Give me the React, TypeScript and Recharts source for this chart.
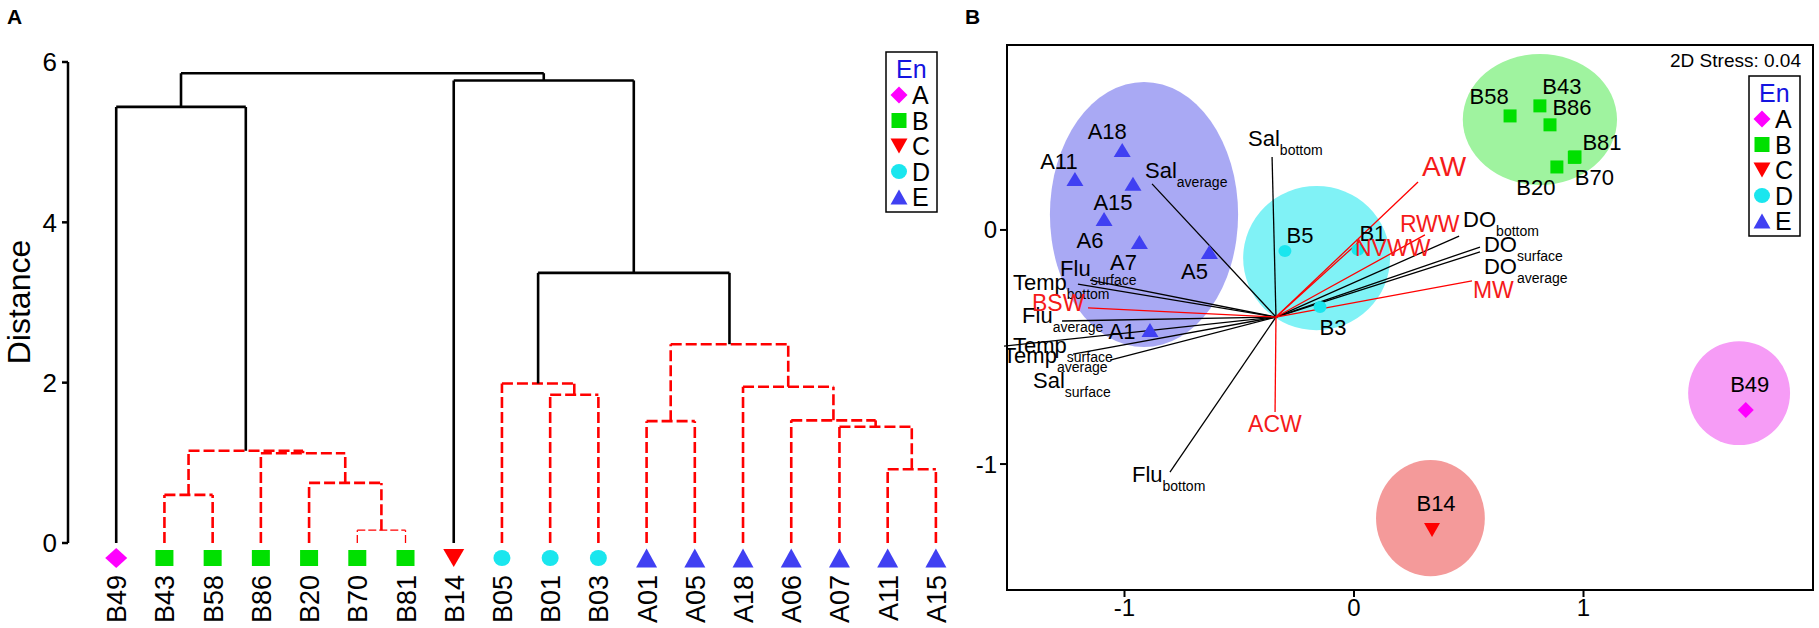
import React from "react";
import { ScatterChart, Scatter, XAxis, YAxis, ReferenceLine, ReferenceArea } from "recharts";

if (typeof document !== "undefined") document.body.style.margin = "0";

const FONT = '"Liberation Sans", Arial, Helvetica, sans-serif';

// ---------- Panel A: dendrogram ----------
const leafNames = ["B49", "B43", "B58", "B86", "B20", "B70", "B81", "B14", "B05", "B01", "B03", "A01", "A05", "A18", "A06", "A07", "A11", "A15"];
const leafGroups = ["A", "B", "B", "B", "B", "B", "B", "C", "D", "D", "D", "E", "E", "E", "E", "E", "E", "E"];
// [left id, right id, distance]; ids 0-17 are leaves, 18+ are the merges below in order
const merges: [number, number, number][] = [
  [5, 6, 0.16],
  [4, 18, 0.75],
  [1, 2, 0.6],
  [3, 19, 1.12],
  [20, 21, 1.15],
  [0, 22, 5.44],
  [9, 10, 1.85],
  [8, 24, 1.99],
  [16, 17, 0.92],
  [15, 26, 1.45],
  [14, 27, 1.53],
  [13, 28, 1.95],
  [11, 12, 1.52],
  [30, 29, 2.48],
  [25, 31, 3.37],
  [7, 32, 5.77],
  [23, 33, 5.86],
];
const distanceTicks = [0, 2, 4, 6];
const CUT = 3; // links above this are drawn solid black

// ---------- Panel B: nMDS ----------
const siteNames = ["A18", "A11", "A15", "A6", "A7", "A5", "A1", "B5", "B1", "B3", "B58", "B43", "B86", "B81", "B70", "B20", "B49", "B14"];
const siteGroups = ["E", "E", "E", "E", "E", "E", "E", "D", "D", "D", "B", "B", "B", "B", "B", "B", "A", "C"];
const siteX = [-1.01, -1.216, -0.963, -1.089, -0.935, -0.63, -0.889, -0.301, 0.017, -0.148, 0.68, 0.81, 0.854, 0.963, 0.96, 0.884, 1.707, 0.34];
const siteY = [0.342, 0.218, 0.197, 0.047, -0.051, -0.094, -0.427, -0.09, -0.085, -0.329, 0.487, 0.53, 0.449, 0.312, 0.31, 0.269, -0.769, -1.282];

const ellipseGroups = ["E", "D", "B", "A", "C"];
const ellipseCx = [-0.915, -0.163, 0.81, 1.678, 0.333];
const ellipseCy = [0.066, -0.12, 0.472, -0.697, -1.231];
const ellipseRx = [0.41, 0.32, 0.336, 0.222, 0.237];
const ellipseRy = [0.566, 0.308, 0.28, 0.222, 0.248];

const vectorOrigin = { x: -0.34, y: -0.372 };
const envNames = ["Sal", "Sal", "Flu", "Temp", "Flu", "Temp", "Temp", "Sal", "Flu", "DO", "DO", "DO"];
const envLayers = ["bottom", "average", "surface", "bottom", "average", "surface", "average", "surface", "bottom", "bottom", "surface", "average"];
const envX = [-0.357, -0.88, -1.15, -1.203, -1.272, -1.525, -1.224, -1.063, -0.802, 0.458, 0.549, 0.549];
const envY = [0.312, 0.197, -0.214, -0.231, -0.389, -0.496, -0.53, -0.556, -1.034, -0.026, -0.073, -0.094];

const wmNames = ["AW", "RWW", "NVWW", "MW", "BSW", "ACW"];
const wmX = [0.279, 0.309, 0.026, 0.514, -1.159, -0.344];
const wmY = [0.205, -0.021, -0.047, -0.218, -0.333, -0.778];

const mdsXTicks = [-1, 0, 1];
const mdsYTicks = [-1, 0];
const mdsXDomain: [number, number] = [-1.512, 2.0];
const mdsYDomain: [number, number] = [-1.538, 0.79];
const stressText = "2D Stress: 0.04";

// ---------- layout / style ----------
type Kind = "diamond" | "square" | "triDown" | "circle" | "triUp";
const groupStyle: Record<string, { kind: Kind; color: string; fill: string }> = {
  A: { kind: "diamond", color: "#FF00FF", fill: "#F69CF6" },
  B: { kind: "square", color: "#00E000", fill: "#9FF39F" },
  C: { kind: "triDown", color: "#FF0000", fill: "#F49A9A" },
  D: { kind: "circle", color: "#1AE6EE", fill: "#80F2F6" },
  E: { kind: "triUp", color: "#4040F2", fill: "#A9A9F4" },
};
const sizeA: Record<Kind, [number, number]> = { diamond: [22, 20], square: [18, 16], triDown: [21, 18], circle: [17, 16], triUp: [21, 19] };
const sizeB: Record<Kind, [number, number]> = { diamond: [16, 16], square: [13, 13], triDown: [16, 14], circle: [13, 12], triUp: [17, 14] };
const sizeL: Record<Kind, [number, number]> = { diamond: [17, 17], square: [15, 15], triDown: [17, 15], circle: [16, 15], triUp: [17, 15] };

const siteLabelOffset: Record<string, [number, number]> = {
  A18: [-15, -11], A11: [-16, -10], A15: [-20, 26], A6: [-14, 29], A7: [-16, 28], A5: [-15, 27], A1: [-28, 9],
  B5: [15, -8], B1: [15, -9], B3: [13, 28], B58: [-21, -12], B43: [22, -12], B86: [22, -10], B81: [27, -7],
  B70: [20, 28], B20: [-21, 28], B49: [4, -18], B14: [4, -19],
};
const envLabelOffset: [number, number][] = [
  [-24, -11], [-7, -6], [-30, -4], [-65, 6], [-40, 2], [9, 7], [-70, 9], [-77, 28], [-38, 10], [4, -9], [4, 5], [4, 22],
];
const wmLabelOffset: [number, number][] = [[4, -6], [-25, -3], [-5, 15], [1, 17], [-56, 3], [-27, 20]];

const RED = "#FF0000";
const RED_TEXT = "#F51A1A";

function Marker({ kind, x, y, size, color }: { kind: Kind; x: number; y: number; size: [number, number]; color: string }) {
  const w = size[0] / 2;
  const h = size[1] / 2;
  if (kind === "diamond") return <polygon points={`${x},${y - h} ${x + w},${y} ${x},${y + h} ${x - w},${y}`} fill={color} />;
  if (kind === "square") return <rect x={x - w} y={y - h} width={w * 2} height={h * 2} fill={color} />;
  if (kind === "circle") return <ellipse cx={x} cy={y} rx={w} ry={h} fill={color} />;
  if (kind === "triDown") return <polygon points={`${x - w},${y - h} ${x + w},${y - h} ${x},${y + h}`} fill={color} />;
  return <polygon points={`${x},${y - h} ${x + w},${y + h} ${x - w},${y + h}`} fill={color} />;
}

// dendrogram geometry from the merge table
const nodeX: number[] = leafNames.map((_, i) => i);
const nodeH: number[] = leafNames.map(() => 0);
merges.forEach(([l, r, h]) => {
  nodeX.push((nodeX[l] + nodeX[r]) / 2);
  nodeH.push(h);
});
const links = merges.flatMap(([l, r, h]) => {
  const main = h > CUT;
  const thin = h < 0.3;
  return [
    { a: { x: nodeX[l], y: nodeH[l] }, b: { x: nodeX[l], y: h }, main, thin },
    { a: { x: nodeX[l], y: h }, b: { x: nodeX[r], y: h }, main, thin },
    { a: { x: nodeX[r], y: nodeH[r] }, b: { x: nodeX[r], y: h }, main, thin },
  ];
});

const leafData = leafNames.map((name, i) => ({ x: i, y: 0, name }));

function LeafTick(props: any) {
  const { x, y, payload } = props;
  const i = payload.value;
  const st = groupStyle[leafGroups[i]];
  const lx = x + 10;
  const ly = y + 32;
  return (
    <g>
      <Marker kind={st.kind} x={x} y={y + 15} size={sizeA[st.kind]} color={st.color} />
      <text x={lx} y={ly} transform={`rotate(-90 ${lx} ${ly})`} textAnchor="end" fontSize={27} fontFamily={FONT} fill="#000">
        {leafNames[i]}
      </text>
    </g>
  );
}

function Dendrogram() {
  return (
    <ScatterChart width={960} height={628} margin={{ top: 62, right: 0, left: 0, bottom: 0 }}>
      <XAxis
        type="number"
        dataKey="x"
        domain={[-1, 17.5]}
        allowDataOverflow
        ticks={leafNames.map((_, i) => i)}
        interval={0}
        axisLine={false}
        tickLine={false}
        tickSize={0}
        tickMargin={0}
        height={85}
        tick={<LeafTick />}
      />
      <YAxis
        type="number"
        dataKey="y"
        domain={[0, 6]}
        allowDataOverflow
        ticks={distanceTicks}
        width={68}
        axisLine={{ stroke: "#000", strokeWidth: 2.5 }}
        tickLine={{ stroke: "#000", strokeWidth: 2.5 }}
        tickSize={6}
        tickMargin={5}
        tick={{ fontSize: 26, fill: "#000", fontFamily: FONT }}
      />
      {links.map((s, k) => (
        <ReferenceLine
          key={k}
          segment={[s.a, s.b]}
          ifOverflow="visible"
          stroke={s.main ? "#000" : RED}
          strokeWidth={s.main ? 2.6 : s.thin ? 1.3 : 2.6}
          strokeDasharray={s.main ? undefined : s.thin ? "8 3" : "11 4"}
        />
      ))}
      <Scatter data={leafData} isAnimationActive={false} shape={() => <g />} />
    </ScatterChart>
  );
}

function SiteShape(props: any) {
  const { cx, cy, payload } = props;
  const st = groupStyle[payload.group];
  const [dx, dy] = siteLabelOffset[payload.name];
  return (
    <g>
      <Marker kind={st.kind} x={cx} y={cy} size={sizeB[st.kind]} color={st.color} />
      <text x={cx + dx} y={cy + dy} textAnchor="middle" fontSize={22} fontFamily={FONT} fill="#000">
        {payload.name}
      </text>
    </g>
  );
}

function VecLabel(props: any) {
  const { cx, cy, payload } = props;
  return (
    <text x={cx + payload.dx} y={cy + payload.dy} fontSize={payload.size} fontFamily={FONT} fill={payload.color}>
      {payload.main}
      {payload.sub ? (
        <tspan fontSize={14} dy={9}>
          {payload.sub}
        </tspan>
      ) : null}
    </text>
  );
}

const siteData = siteNames.map((name, i) => ({ x: siteX[i], y: siteY[i], name, group: siteGroups[i] }));
const envLabelData = envNames.map((main, i) => ({
  x: envX[i], y: envY[i], main, sub: envLayers[i], dx: envLabelOffset[i][0], dy: envLabelOffset[i][1], size: 22, color: "#000",
}));
const wmLabelData = wmNames.map((main, i) => ({
  x: wmX[i], y: wmY[i], main, sub: "", dx: wmLabelOffset[i][0], dy: wmLabelOffset[i][1], size: main === "AW" ? 28 : 23, color: RED_TEXT,
}));

function MdsPlot() {
  return (
    <ScatterChart width={859} height={628} margin={{ top: 45, right: 6, left: 0, bottom: 0 }}>
      <XAxis
        type="number"
        dataKey="x"
        domain={mdsXDomain}
        allowDataOverflow
        ticks={mdsXTicks}
        axisLine={false}
        tickLine={{ stroke: "#000", strokeWidth: 2 }}
        tickSize={7}
        tickMargin={2}
        height={38}
        tick={{ fontSize: 24, fill: "#000", fontFamily: FONT }}
      />
      <YAxis
        type="number"
        dataKey="y"
        domain={mdsYDomain}
        allowDataOverflow
        ticks={mdsYTicks}
        width={47}
        axisLine={false}
        tickLine={{ stroke: "#000", strokeWidth: 2 }}
        tickSize={7}
        tickMargin={3}
        tick={{ fontSize: 24, fill: "#000", fontFamily: FONT }}
      />
      {ellipseGroups.map((g, i) => (
        <ReferenceArea
          key={g}
          x1={ellipseCx[i] - ellipseRx[i]}
          x2={ellipseCx[i] + ellipseRx[i]}
          y1={ellipseCy[i] - ellipseRy[i]}
          y2={ellipseCy[i] + ellipseRy[i]}
          ifOverflow="visible"
          shape={(p: any) => (
            <ellipse
              cx={p.x + p.width / 2}
              cy={p.y + p.height / 2}
              rx={Math.abs(p.width) / 2}
              ry={Math.abs(p.height) / 2}
              fill={groupStyle[g].fill}
            />
          )}
        />
      ))}
      <ReferenceArea
        x1={mdsXDomain[0]}
        x2={mdsXDomain[1]}
        y1={mdsYDomain[0]}
        y2={mdsYDomain[1]}
        ifOverflow="visible"
        fill="none"
        fillOpacity={0}
        stroke="#000"
        strokeWidth={2}
      />
      {envNames.map((n, i) => (
        <ReferenceLine
          key={"env" + i}
          segment={[vectorOrigin, { x: envX[i], y: envY[i] }]}
          ifOverflow="visible"
          stroke="#000"
          strokeWidth={1.3}
        />
      ))}
      {wmNames.map((n, i) => (
        <ReferenceLine
          key={"wm" + i}
          segment={[vectorOrigin, { x: wmX[i], y: wmY[i] }]}
          ifOverflow="visible"
          stroke={RED}
          strokeWidth={1.3}
        />
      ))}
      <Scatter data={siteData} isAnimationActive={false} shape={<SiteShape />} />
      <Scatter data={envLabelData} isAnimationActive={false} shape={<VecLabel />} />
      <Scatter data={wmLabelData} isAnimationActive={false} shape={<VecLabel />} />
    </ScatterChart>
  );
}

function GroupLegend({ left, top }: { left: number; top: number }) {
  const groups = ["A", "B", "C", "D", "E"];
  return (
    <g>
      <rect x={left} y={top} width={51} height={160} fill="#fff" stroke="#000" strokeWidth={1.5} />
      <text x={left + 10} y={top + 26} fontSize={25} fontFamily={FONT} fill="#1414E0">
        En
      </text>
      {groups.map((g, k) => {
        const cy = top + 43 + k * 25.5;
        const st = groupStyle[g];
        return (
          <g key={g}>
            <Marker kind={st.kind} x={left + 13} y={cy} size={sizeL[st.kind]} color={st.color} />
            <text x={left + 26} y={cy + 9} fontSize={25} fontFamily={FONT} fill="#000">
              {g}
            </text>
          </g>
        );
      })}
    </g>
  );
}

export default function App() {
  return (
    <div style={{ position: "relative", width: 1819, height: 628, background: "#fff", fontFamily: FONT, overflow: "hidden" }}>
      <div style={{ position: "absolute", left: 0, top: 0 }}>
        <Dendrogram />
      </div>
      <div style={{ position: "absolute", left: 960, top: 0 }}>
        <MdsPlot />
      </div>
      <svg width={1819} height={628} style={{ position: "absolute", left: 0, top: 0, pointerEvents: "none" }}>
        <text x={7} y={24} fontSize={21} fontWeight="bold" fontFamily={FONT} fill="#000">A</text>
        <text x={965} y={24} fontSize={21} fontWeight="bold" fontFamily={FONT} fill="#000">B</text>
        <text x={30} y={302} transform="rotate(-90 30 302)" textAnchor="middle" fontSize={32} fontFamily={FONT} fill="#000">
          Distance
        </text>
        <GroupLegend left={886} top={52} />
        <GroupLegend left={1749} top={76} />
        <text x={1801} y={67} textAnchor="end" fontSize={19} fontFamily={FONT} fill="#000">
          {stressText}
        </text>
      </svg>
    </div>
  );
}
